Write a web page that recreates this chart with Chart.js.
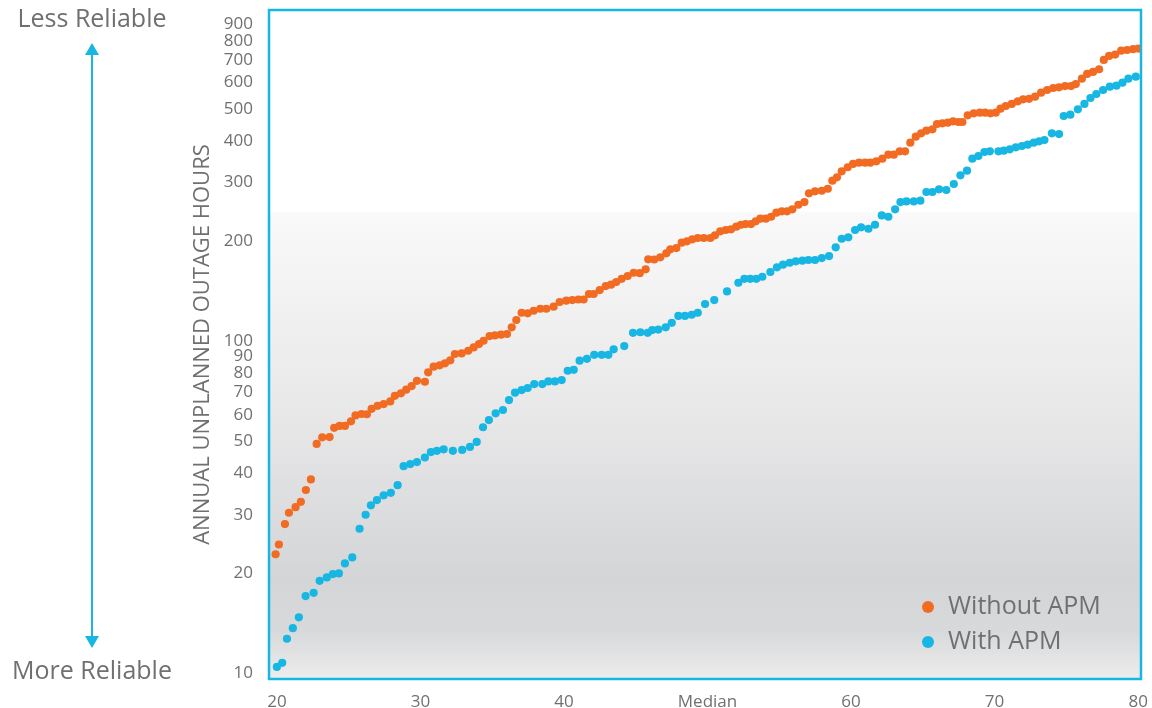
<!DOCTYPE html>
<html>
<head>
<meta charset="utf-8">
<script src="https://cdn.jsdelivr.net/npm/chart.js"></script>
<style>
  html, body { margin: 0; padding: 0; background: #ffffff; }
  #wrap { width: 1152px; height: 708px; }
</style>
</head>
<body>
<div id="wrap"><canvas id="apmChart" width="1152" height="708"></canvas></div>
<script>
// percentile rank (x) and annual unplanned outage hours (y)
var withoutApmX = [19.91,20.14,20.56,20.84,21.30,21.67,22.02,22.37,22.77,23.16,
  23.67,23.99,24.37,24.74,25.16,25.48,25.90,26.27,26.60,27.02,
  27.44,27.90,28.22,28.64,29.01,29.39,29.76,30.31,30.54,30.92,
  31.34,31.71,32.08,32.40,32.87,33.33,33.71,34.08,34.40,34.82,
  35.19,35.61,36.03,36.36,36.68,37.05,37.47,37.89,38.35,38.77,
  39.28,39.70,40.16,40.58,41.00,41.37,41.74,42.07,42.49,42.91,
  43.28,43.64,44.02,44.44,44.86,45.28,45.69,45.87,46.29,46.71,
  47.13,47.41,47.83,48.20,48.57,48.94,49.32,49.74,50.20,50.52,
  50.89,51.27,51.64,52.01,52.33,52.66,53.03,53.36,53.68,54.06,
  54.43,54.80,55.17,55.54,55.91,56.33,56.75,57.07,57.49,57.96,
  58.38,58.70,59.02,59.35,59.77,60.14,60.56,60.98,61.34,61.76,
  62.18,62.60,62.98,63.39,63.76,64.13,64.51,64.88,65.25,65.67,
  65.99,66.36,66.74,67.11,67.48,67.76,68.13,68.55,68.97,69.34,
  69.71,70.08,70.41,70.78,71.20,71.62,71.99,72.40,72.82,73.24,
  73.66,74.08,74.49,74.91,75.33,75.66,76.08,76.45,76.86,77.28,
  77.61,77.98,78.40,78.82,79.23,79.65,80.02];
var withoutApmY = [22.8,24.4,28.1,30.4,31.6,32.8,35.6,38.3,49.0,51.3,
  51.4,54.8,55.5,55.5,57.3,59.7,60.3,60.2,62.5,63.8,
  64.6,65.8,68.4,69.6,71.4,73.2,75.9,75.4,80.5,83.7,
  84.5,85.7,87.5,91.4,91.8,93.5,95.7,97.9,100.2,103.5,
  104.0,104.5,105.0,110.0,115.7,121.7,121.2,123.4,125.1,125.1,
  126.9,131.1,132.3,132.9,133.4,133.4,138.6,138.6,142.4,146.4,
  147.8,150.6,154.0,157.0,160.6,160.1,164.4,176.2,176.0,178.7,
  183.7,188.9,190.6,197.8,199.7,202.5,204.3,204.3,204.3,208.2,
  214.0,216.0,217.0,221.0,224.0,225.1,225.1,229.4,233.6,233.6,
  236.8,243.5,245.9,245.9,249.3,257.3,262.2,278.5,282.4,283.5,
  287.5,304.0,311.3,324.5,333.7,341.4,344.4,344.4,344.4,347.8,
  354.1,364.1,364.1,372.8,372.8,395.7,412.5,422.3,430.0,434.2,
  450.4,452.6,454.5,458.9,456.7,456.7,478.4,485.1,487.2,487.2,
  485.1,487.2,500.9,510.4,517.6,527.3,534.6,536.5,544.4,559.7,
  570.2,578.2,581.0,586.1,586.1,594.3,616.6,637.3,646.2,658.5,
  702.2,722.0,728.8,748.9,752.6,756.6,760.0];

var withApmX = [20.00,20.37,20.70,21.11,21.53,22.00,22.56,22.98,23.48,23.90,
  24.32,24.74,25.25,25.76,26.18,26.55,26.97,27.44,27.94,28.41,
  28.83,29.29,29.76,30.31,30.73,31.15,31.62,32.26,32.91,33.45,
  33.92,34.36,34.77,35.24,35.75,36.17,36.59,37.05,37.47,37.93,
  38.49,38.91,39.37,39.84,40.26,40.68,41.09,41.60,42.11,42.63,
  43.09,43.46,44.20,44.81,45.32,45.83,46.15,46.57,47.09,47.51,
  47.97,48.43,48.90,49.32,49.83,50.47,51.36,52.15,52.57,52.98,
  53.40,53.82,54.38,54.84,55.26,55.73,56.15,56.61,57.03,57.49,
  57.96,58.47,58.93,59.35,59.81,60.28,60.70,61.21,61.67,62.14,
  62.60,63.07,63.44,63.86,64.37,64.83,65.25,65.67,66.13,66.64,
  67.16,67.62,68.08,68.45,68.87,69.29,69.67,70.27,70.64,71.06,
  71.48,71.90,72.31,72.73,73.10,73.47,73.99,74.49,74.82,75.28,
  75.80,76.26,76.68,77.09,77.56,78.03,78.49,78.91,79.32,79.84];
var withApmY = [10.44,10.74,12.69,13.66,14.72,17.06,17.45,18.97,19.42,19.87,
  19.96,21.40,22.31,27.21,29.98,32.0,33.2,34.3,34.9,36.8,
  42.0,42.6,43.2,44.6,46.3,46.7,47.2,46.7,47.0,48.0,
  49.7,55.0,57.8,60.6,62.0,66.4,69.9,71.2,72.2,74.2,
  74.2,75.6,75.6,76.3,81.4,81.9,87.3,88.4,90.9,90.9,
  90.9,94.4,96.6,105.9,106.3,105.9,107.9,108.3,110.0,113.5,
  119.0,119.0,120.0,121.7,129.3,132.9,141.1,149.8,154.0,154.0,
  154.0,156.2,161.4,166.7,169.8,172.1,173.8,174.6,175.4,175.4,
  177.8,180.3,191.5,203.3,205.3,216.0,220.1,217.9,224.0,239.0,
  236.8,249.3,262.2,263.3,263.3,264.6,281.1,281.1,286.4,285.0,
  297.1,315.6,325.9,354.1,360.8,371.0,372.8,372.8,374.4,378.0,
  383.3,386.7,390.3,395.7,399.5,403.2,422.3,420.1,476.1,480.4,
  498.8,517.6,539.5,554.6,570.2,583.4,587.7,599.8,616.6,625.3];

var seriesNames = ["Without APM", "With APM"];
var yTicks = [10,20,30,40,50,60,70,80,90,100,200,300,400,500,600,700,800,900];
var xTicks = [20,30,40,50,60,70,80];
var xTickLabels = ["20","30","40","Median","60","70","80"];

var ORANGE = "#f26b22";
var CYAN = "#17b6e3";
var GREY = "#6f7072";
var FONT = "'Open Sans', 'DejaVu Sans', sans-serif";

function toPoints(xs, ys) {
  return xs.map(function(x, i) { return { x: x, y: ys[i] }; });
}

var decor = {
  id: "decor",
  beforeDraw: function(chart) {
    var c = chart.ctx, a = chart.chartArea;
    var g = c.createLinearGradient(0, a.top, 0, a.bottom);
    g.addColorStop(0, "#ffffff");
    g.addColorStop(0.3, "#ffffff");
    g.addColorStop(0.305, "#f9f9f9");
    g.addColorStop(0.6, "#e8e8e9");
    g.addColorStop(0.85, "#d4d5d7");
    g.addColorStop(0.93, "#d8d9db");
    g.addColorStop(1, "#ededed");
    c.save();
    c.fillStyle = g;
    c.fillRect(a.left, a.top, a.right - a.left, a.bottom - a.top);
    c.restore();
  },
  afterDraw: function(chart) {
    var c = chart.ctx, a = chart.chartArea;
    c.save();
    // frame
    c.strokeStyle = CYAN;
    c.lineWidth = 2.5;
    c.strokeRect(a.left, a.top, a.right - a.left, a.bottom - a.top);

    // reliability arrow on the left
    var ax = 92;
    c.lineWidth = 2;
    c.beginPath();
    c.moveTo(ax, 52);
    c.lineTo(ax, 640);
    c.stroke();
    c.fillStyle = CYAN;
    c.beginPath();
    c.moveTo(ax, 43); c.lineTo(ax - 7, 55); c.lineTo(ax + 7, 55); c.closePath();
    c.fill();
    c.beginPath();
    c.moveTo(ax, 648); c.lineTo(ax - 7, 636); c.lineTo(ax + 7, 636); c.closePath();
    c.fill();

    c.fillStyle = GREY;
    c.font = "25px " + FONT;
    c.textAlign = "center";
    c.textBaseline = "middle";
    c.fillText("Less Reliable", ax, 20);
    c.fillText("More Reliable", ax, 672);

    // legend in the lower right of the plot
    c.textAlign = "left";
    chart.data.datasets.forEach(function(ds, i) {
      var y = 607 + i * 35;
      c.fillStyle = ds.backgroundColor;
      c.beginPath();
      c.arc(928, y, 6, 0, Math.PI * 2);
      c.fill();
      c.fillStyle = GREY;
      c.fillText(ds.label, 948, y);
    });
    c.restore();
  }
};

var ctx = document.getElementById("apmChart").getContext("2d");
var apmChart = new Chart(ctx, {
  type: "scatter",
  data: {
    datasets: [{
      label: seriesNames[0],
      data: toPoints(withoutApmX, withoutApmY),
      backgroundColor: ORANGE,
      borderWidth: 0,
      pointRadius: 4.1
    }, {
      label: seriesNames[1],
      data: toPoints(withApmX, withApmY),
      backgroundColor: CYAN,
      borderWidth: 0,
      pointRadius: 4.1
    }]
  },
  options: {
    responsive: false,
    animation: false,
    devicePixelRatio: 1,
    layout: { padding: { left: 186, right: 11, top: 10, bottom: 0 } },
    plugins: {
      legend: { display: false },
      tooltip: { enabled: false }
    },
    scales: {
      x: {
        type: "linear",
        min: 19.45,
        max: 80.2,
        grid: { display: false },
        border: { display: false },
        afterBuildTicks: function(scale) {
          scale.ticks = xTicks.map(function(v) { return { value: v }; });
        },
        afterFit: function(scale) {
          scale.height = 29;
          scale.paddingLeft = 0;
          scale.paddingRight = 0;
        },
        ticks: {
          color: GREY,
          padding: 5,
          font: { family: FONT, size: 17 },
          maxRotation: 0,
          callback: function(v) { return xTickLabels[xTicks.indexOf(v)]; }
        }
      },
      y: {
        type: "logarithmic",
        min: 9.6,
        max: 993,
        grid: { display: false },
        border: { display: false },
        afterBuildTicks: function(scale) {
          scale.ticks = yTicks.map(function(v) { return { value: v }; });
        },
        afterFit: function(scale) {
          scale.width = 83;
          scale.paddingTop = 0;
          scale.paddingBottom = 0;
        },
        title: {
          display: true,
          text: "ANNUAL UNPLANNED OUTAGE HOURS",
          color: GREY,
          font: { family: FONT, size: 22 }
        },
        ticks: {
          color: GREY,
          padding: 8,
          font: { family: FONT, size: 17 },
          autoSkip: false,
          callback: function(v) { return String(v); }
        }
      }
    }
  },
  plugins: [decor]
});
</script>
</body>
</html>
